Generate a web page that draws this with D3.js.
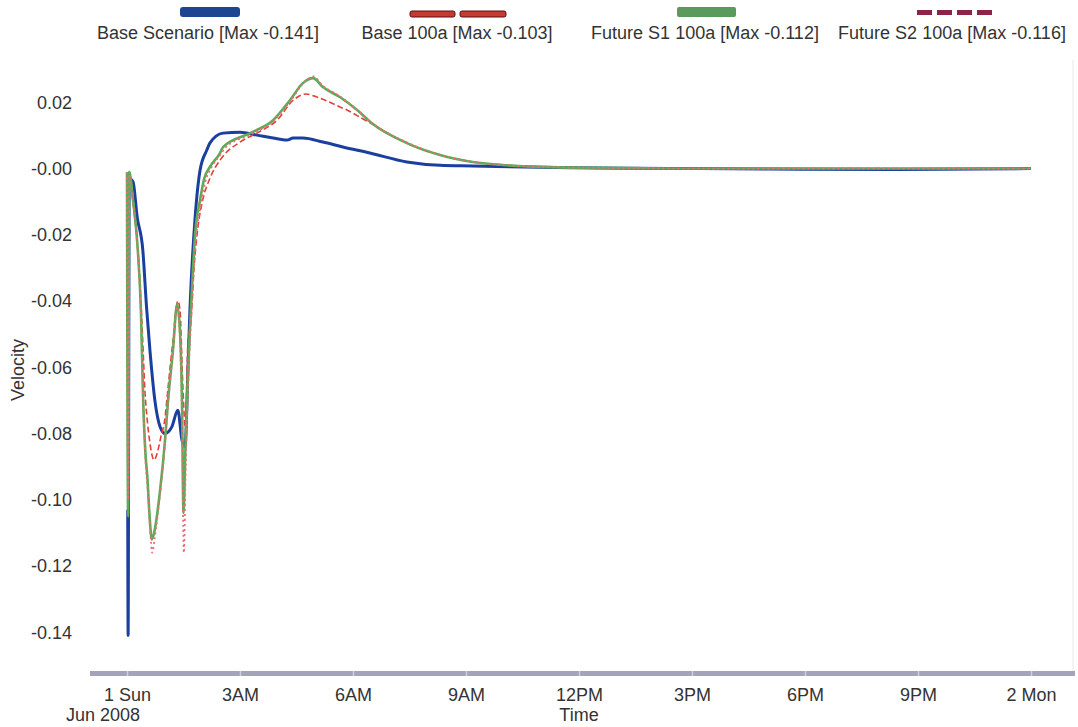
<!DOCTYPE html>
<html>
<head>
<meta charset="utf-8">
<script src="https://cdn.jsdelivr.net/npm/d3@7"></script>
<style>
  body { margin: 0; background: #fff; }
  svg { display: block; font-family: "Liberation Sans", Arial, sans-serif; }
</style>
</head>
<body>
<div id="chart"></div>
<script>
// hours after 1 Jun 2008 00:00, and velocity readings for each run
const baseHours = [0.02, 0.03, 0.06, 0.16, 0.27, 0.42, 0.52, 0.61, 0.74, 0.88, 1.01, 1.19, 1.35, 1.46, 1.54, 1.62, 1.67, 1.81, 1.94, 2.12, 2.2, 2.55, 3.0, 3.45, 3.88, 4.25, 4.41, 4.67, 5.2, 5.73, 6.45, 7.43, 8.31, 9.18, 10.96, 12.56, 15.2, 17.9, 20.5, 24];
const baseValues = [-0.103, -0.141, -0.003, -0.004, -0.0146, -0.0246, -0.042, -0.055, -0.07, -0.078, -0.08, -0.078, -0.073, -0.082, -0.084, -0.06, -0.043, -0.0146, -0.0005, 0.0056, 0.0077, 0.0107, 0.011, 0.0101, 0.0092, 0.0086, 0.0092, 0.0092, 0.008, 0.0065, 0.0047, 0.002, 0.001, 0.0008, 0.0004, 0.0002, 0, -0.0002, -0.0003, 0];

const b100Hours = [0.0, 0.03, 0.06, 0.18, 0.31, 0.41, 0.48, 0.53, 0.61, 0.72, 0.8, 0.9, 1.0, 1.1, 1.22, 1.35, 1.41, 1.47, 1.55, 1.62, 1.7, 1.78, 1.88, 2.0, 2.2, 2.5, 3.0, 3.5, 4.0, 4.4, 4.75, 5.04, 5.39, 5.65, 5.84, 6.11, 6.5, 7.43, 8.31, 9.18, 10.09, 11, 12.5, 15, 18, 21, 24];
const b100Values = [-0.001, -0.103, -0.003, -0.012, -0.028, -0.05, -0.068, -0.075, -0.083, -0.088, -0.086, -0.081, -0.076, -0.065, -0.052, -0.04, -0.043, -0.062, -0.078, -0.052, -0.046, -0.03, -0.018, -0.01, -0.003, 0.003, 0.008, 0.011, 0.0148, 0.0205, 0.0225, 0.0216, 0.02, 0.0186, 0.0177, 0.016, 0.0135, 0.0077, 0.0041, 0.002, 0.001, 0.0005, 0.0002, 0, 0, 0, 0];

const s1Hours = [0.0, 0.03, 0.06, 0.16, 0.29, 0.37, 0.43, 0.49, 0.54, 0.6, 0.66, 0.72, 0.88, 1.01, 1.09, 1.22, 1.33, 1.41, 1.46, 1.5, 1.55, 1.62, 1.73, 1.81, 1.94, 2.05, 2.2, 2.47, 2.55, 3.27, 3.88, 4.33, 4.67, 4.94, 5.2, 5.65, 6.11, 6.5, 7.43, 8.31, 9.18, 10.09, 10.96, 12.5, 15, 18, 21, 24];
const s1Values = [-0.001, -0.105, -0.001, -0.0095, -0.025, -0.043, -0.07, -0.086, -0.093, -0.105, -0.112, -0.11, -0.097, -0.082, -0.07, -0.055, -0.041, -0.05, -0.07, -0.104, -0.085, -0.062, -0.035, -0.0195, -0.0095, -0.003, 0.0005, 0.0047, 0.0065, 0.0107, 0.0146, 0.0207, 0.0258, 0.0273, 0.0246, 0.0216, 0.0177, 0.0137, 0.0077, 0.0041, 0.002, 0.001, 0.0005, 0.0002, 0, 0, 0, 0];

const s2Hours = [0.0, 0.03, 0.06, 0.16, 0.29, 0.37, 0.43, 0.49, 0.55, 0.61, 0.67, 0.73, 0.88, 1.01, 1.09, 1.22, 1.33, 1.41, 1.46, 1.51, 1.56, 1.63, 1.74, 1.83, 1.96, 2.08, 2.25, 2.5, 2.6, 3.3, 3.9, 4.35, 4.7, 4.95, 5.2, 5.65, 6.1, 6.5, 7.45, 8.3, 9.2, 10.1, 11, 12.5, 15, 18, 21, 24];
const s2Values = [-0.001, -0.1, -0.002, -0.01, -0.026, -0.044, -0.071, -0.088, -0.097, -0.108, -0.116, -0.112, -0.098, -0.083, -0.071, -0.055, -0.042, -0.052, -0.075, -0.116, -0.09, -0.064, -0.037, -0.021, -0.011, -0.004, 0.0005, 0.0045, 0.0062, 0.0104, 0.0145, 0.0205, 0.026, 0.0278, 0.025, 0.0218, 0.0178, 0.0138, 0.0078, 0.0042, 0.002, 0.001, 0.0005, 0.0002, 0, 0, 0, 0];

const seriesNames = ["Base Scenario [Max -0.141]", "Base 100a [Max -0.103]", "Future S1 100a [Max -0.112]", "Future S2 100a [Max -0.116]"];

const yTicks = [0.02, 0, -0.02, -0.04, -0.06, -0.08, -0.1, -0.12, -0.14];
const yTickLabels = ["0.02", "-0.00", "-0.02", "-0.04", "-0.06", "-0.08", "-0.10", "-0.12", "-0.14"];
const xTickHours = [0, 3, 6, 9, 12, 15, 18, 21, 24];
const xTickLabels = ["1 Sun", "3AM", "6AM", "9AM", "12PM", "3PM", "6PM", "9PM", "2 Mon"];

const W = 1078, H = 727;
const start = new Date(2008, 5, 1, 0, 0, 0);
const hourDate = h => new Date(start.getTime() + h * 3600e3);

const svg = d3.select("#chart").append("svg").attr("width", W).attr("height", H);

const x = d3.scaleTime().domain([hourDate(-0.982), hourDate(25.168)]).range([90, 1075]);
const y = d3.scaleLinear().domain([-0.152, 0.0358]).range([672, 50]);

// faint right frame edge
svg.append("line")
  .attr("x1", 1073).attr("x2", 1073).attr("y1", 60).attr("y2", 672)
  .attr("stroke", "#e8e8e8").attr("stroke-width", 1);

// bottom axis bar
svg.append("rect")
  .attr("x", 90).attr("y", 671).attr("width", 985).attr("height", 5)
  .attr("fill", "#a3a3b9");

const xAxis = d3.axisBottom(x)
  .tickValues(xTickHours.map(hourDate))
  .tickFormat((d, i) => xTickLabels[i])
  .tickSizeInner(5).tickSizeOuter(0).tickPadding(12);

const gx = svg.append("g").attr("transform", "translate(0,671)").call(xAxis);
gx.select(".domain").remove();
gx.selectAll(".tick line").attr("stroke", "#d0d0dc").attr("stroke-width", 1.5);
gx.selectAll(".tick text").attr("font-size", 18).attr("fill", "#333")
  .attr("font-family", "'Liberation Sans', Arial, sans-serif");

svg.append("text").attr("x", x(hourDate(0)) - 24).attr("y", 721)
  .attr("text-anchor", "middle").attr("font-size", 18).attr("fill", "#333")
  .text("Jun 2008");
svg.append("text").attr("x", x(hourDate(12))).attr("y", 721)
  .attr("text-anchor", "middle").attr("font-size", 18).attr("fill", "#333")
  .text("Time");

const yAxis = d3.axisLeft(y)
  .tickValues(yTicks)
  .tickFormat((d, i) => yTickLabels[i])
  .tickSize(0).tickPadding(0);

const gy = svg.append("g").attr("transform", "translate(72,0)").call(yAxis);
gy.select(".domain").remove();
gy.selectAll(".tick text").attr("font-size", 18).attr("fill", "#333")
  .attr("font-family", "'Liberation Sans', Arial, sans-serif");

svg.append("text")
  .attr("transform", "translate(24,370) rotate(-90)")
  .attr("text-anchor", "middle").attr("font-size", 18).attr("fill", "#333")
  .text("Velocity");

// lines
const line = d3.line()
  .x(d => x(hourDate(d[0])))
  .y(d => y(d[1]))
  .curve(d3.curveMonotoneX);

const zip = (hs, vs) => hs.map((h, i) => [h, vs[i]]);

const series = [
  { data: zip(baseHours, baseValues), color: "#1b3f9e", width: 3, dash: null },
  { data: zip(b100Hours, b100Values), color: "#e2413a", width: 1.6, dash: "6,3" },
  { data: zip(s1Hours, s1Values), color: "#5aac55", width: 2.6, dash: null },
  { data: zip(s2Hours, s2Values), color: "#ee6a7c", width: 1.8, dash: "2,3" }
];

svg.append("g").selectAll("path")
  .data(series)
  .join("path")
  .attr("d", d => line(d.data))
  .attr("fill", "none")
  .attr("stroke", d => d.color)
  .attr("stroke-width", d => d.width)
  .attr("stroke-dasharray", d => d.dash)
  .attr("stroke-linejoin", "round");

// legend
const legendX = [208, 457, 705, 952];
const lg = svg.append("g");
seriesNames.forEach((name, i) => {
  lg.append("text").attr("x", legendX[i]).attr("y", 39)
    .attr("text-anchor", "middle").attr("font-size", 18).attr("fill", "#333")
    .text(name);
});
// Base Scenario swatch
lg.append("rect").attr("x", 180).attr("y", 7).attr("width", 60).attr("height", 10)
  .attr("rx", 3).attr("fill", "#1e4690");
// Base 100a swatch: two long dashes
[[410, 455], [460, 506]].forEach(s => {
  lg.append("rect").attr("x", s[0]).attr("y", 11).attr("width", s[1] - s[0]).attr("height", 6)
    .attr("rx", 2).attr("fill", "#c63a32").attr("stroke", "#5a1010").attr("stroke-width", 1);
});
// Future S1 swatch
lg.append("rect").attr("x", 677).attr("y", 7).attr("width", 59).attr("height", 10)
  .attr("rx", 2).attr("fill", "#5a9a5c");
// Future S2 swatch: short dashes
lg.append("line").attr("x1", 917).attr("x2", 992).attr("y1", 12.5).attr("y2", 12.5)
  .attr("stroke", "#8c2545").attr("stroke-width", 5).attr("stroke-dasharray", "15,5");
</script>
</body>
</html>
